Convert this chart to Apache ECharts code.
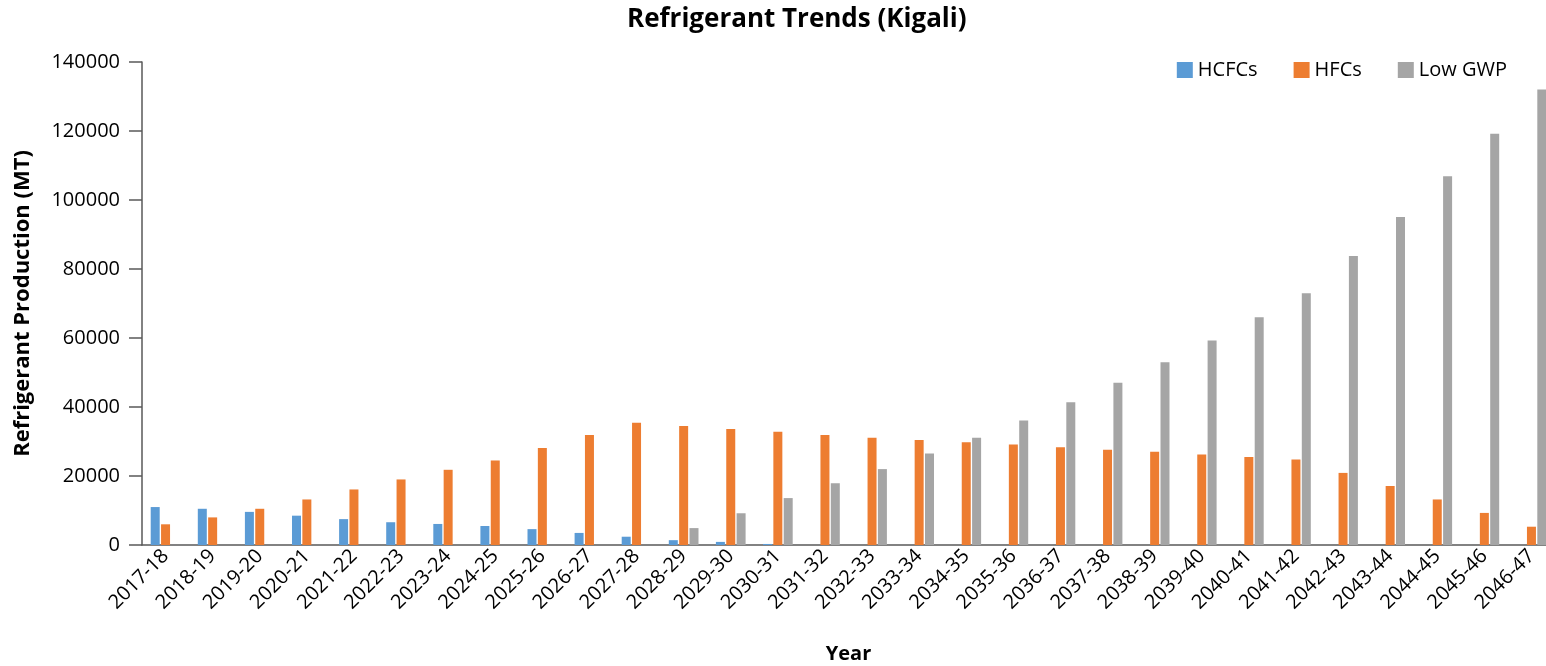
<!DOCTYPE html>
<html>
<head>
<meta charset="utf-8">
<title>Refrigerant Trends (Kigali)</title>
<script src="https://cdn.jsdelivr.net/npm/echarts@6/dist/echarts.min.js"></script>
<style>
  html, body { margin: 0; padding: 0; background: #fff; }
  #chart { width: 1546px; height: 666px; }
</style>
</head>
<body>
<div id="chart"></div>
<script>
// 年份（类目）
const years = [
  '2017-18', '2018-19', '2019-20', '2020-21', '2021-22', '2022-23', '2023-24', '2024-25',
  '2025-26', '2026-27', '2027-28', '2028-29', '2029-30', '2030-31', '2031-32', '2032-33',
  '2033-34', '2034-35', '2035-36', '2036-37', '2037-38', '2038-39', '2039-40', '2040-41',
  '2041-42', '2042-43', '2043-44', '2044-45', '2045-46', '2046-47'
]

// 各类制冷剂产量 (MT)
const hcfcs = [
  11000, 10500, 9600, 8500, 7500, 6600, 6100, 5500, 4600, 3500,
  2400, 1400, 900, 300, 0, 0, 0, 0, 0, 0,
  0, 0, 0, 0, 0, 0, 0, 0, 0, 0
]
const hfcs = [
  6000, 8000, 10500, 13200, 16100, 19000, 21800, 24500, 28100, 31900,
  35400, 34500, 33600, 32800, 31900, 31100, 30400, 29800, 29100, 28300,
  27600, 27000, 26200, 25500, 24800, 20900, 17100, 13200, 9300, 5300
]
const lowGwp = [
  0, 0, 0, 0, 0, 0, 0, 0, 0, 0,
  0, 4900, 9200, 13600, 17900, 22000, 26500, 31100, 36100, 41400,
  47000, 53000, 59300, 66000, 73000, 83800, 95100, 106900, 119200, 132000
]

const seriesNames = ['HCFCs', 'HFCs', 'Low GWP']
const colors = ['#5B9BD5', '#ED7D31', '#A5A5A5']

const font = '"Open Sans", "Noto Sans", sans-serif'
const axisColor = '#595959'

const myChart = echarts.init(document.getElementById('chart'))

const barSeries = [hcfcs, hfcs, lowGwp].map((data, i) => ({
  name: seriesNames[i],
  type: 'bar',
  data: data,
  barWidth: 9,
  barGap: '15%',
  itemStyle: { color: colors[i] }
}))

myChart.setOption({
  animation: false,
  backgroundColor: '#fff',
  textStyle: { fontFamily: font, color: '#000' },
  color: colors,
  title: {
    text: 'Refrigerant Trends (Kigali)',
    left: 622,
    top: 2,
    textStyle: { fontFamily: font, fontSize: 26, fontWeight: 'bold', color: '#000' }
  },
  legend: {
    right: 34,
    top: 55,
    itemWidth: 16,
    itemHeight: 16,
    itemGap: 36,
    icon: 'rect',
    textStyle: { fontFamily: font, fontSize: 20, color: '#000' }
  },
  grid: {
    left: 142,
    right: -9,
    top: 62,
    bottom: 121,
    outerBoundsMode: 'none',
    containLabel: false
  },
  xAxis: {
    type: 'category',
    data: years,
    name: 'Year',
    nameLocation: 'middle',
    nameGap: 99,
    nameTextStyle: { fontFamily: font, fontSize: 20, fontWeight: 'bold', color: '#000' },
    axisLine: { lineStyle: { color: axisColor, width: 1.5 } },
    axisTick: { show: false },
    axisLabel: {
      rotate: 45,
      interval: 0,
      margin: 8,
      fontFamily: font,
      fontSize: 20,
      color: '#000'
    }
  },
  yAxis: {
    type: 'value',
    min: 0,
    max: 140000,
    interval: 20000,
    name: 'Refrigerant Production (MT)',
    nameLocation: 'middle',
    nameGap: 108,
    nameTextStyle: { fontFamily: font, fontSize: 22, fontWeight: 'bold', color: '#000' },
    axisLine: { show: true, lineStyle: { color: axisColor, width: 1.5 } },
    axisTick: { show: true, length: 13, lineStyle: { color: axisColor, width: 1.5 } },
    splitLine: { show: false },
    axisLabel: {
      margin: 22,
      fontFamily: font,
      fontSize: 20,
      color: '#000',
      formatter: (val) => String(val)
    }
  },
  series: barSeries
})
</script>
</body>
</html>
